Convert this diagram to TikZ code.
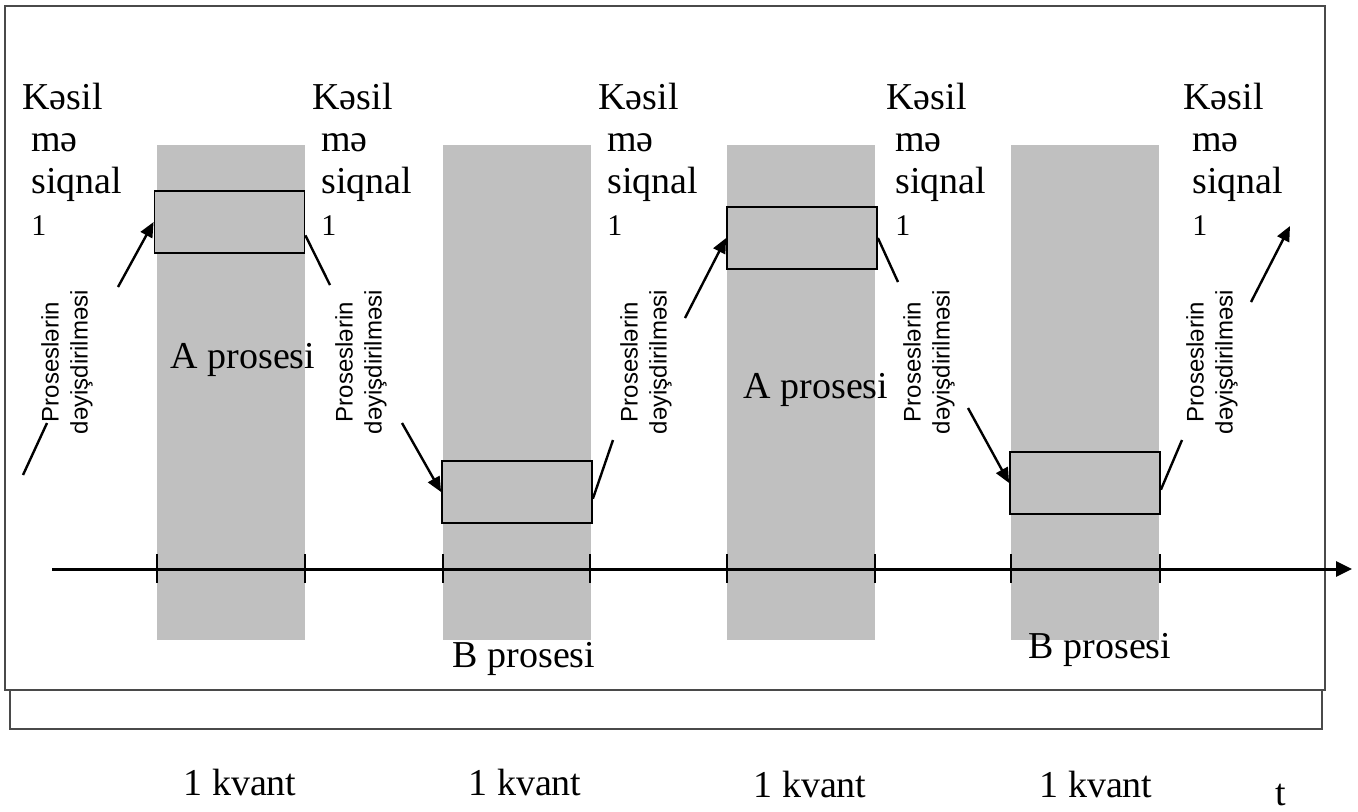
\documentclass[tikz,border=0pt]{standalone}
\usepackage{fontspec}
\setmainfont{Liberation Serif}
\setsansfont{Liberation Sans}
\usepackage{tikz}
\usetikzlibrary{arrows.meta,calc}
\definecolor{slot}{HTML}{C0C0C0}
\definecolor{rim}{HTML}{4A4A4A}
\tikzset{
  >={Triangle[length=7.5pt,width=6.5pt]},
  flow/.style={->,line width=1.2pt},
  tie/.style={line width=1.2pt},
  axis/.style={line width=1.5pt,-{Triangle[length=8pt,width=7.5pt]}},
  tick/.style={line width=0.8pt},
  rimline/.style={draw=rim,line width=0.8pt},
  proc/.style={draw=black,line width=0.9pt,fill=slot,minimum width=75pt,
    minimum height=31pt,inner sep=0pt},
  sig/.style={align=left,anchor=north west,inner sep=0pt,
    font=\fontsize{19}{21}\selectfont},
  swap/.style={rotate=90,align=center,inner sep=0pt,
    font=\sffamily\fontsize{12}{14.5}\selectfont},
  lbl/.style={anchor=base,inner sep=0pt,font=\fontsize{19}{21}\selectfont}
}
\newcommand{\kesil}{Kəsil\\\hspace*{4.5pt}mə\\\hspace*{4.5pt}siqnal\\\hspace*{4.5pt}{\fontsize{15}{17}\selectfont 1}}
\newcommand{\deyis}{Proseslərin\\dəyişdirilməsi}

\begin{document}
\begin{tikzpicture}[x=0.5pt,y=-0.5pt]
  \useasboundingbox (0,0) rectangle (1358,811);
  \draw[rimline] (5,6) rectangle (1325,690);
  \draw[rimline] (10,690) rectangle (1322,729);
  \foreach \x in {157,443,727,1011} \fill[slot] (\x,145) rectangle ++(148,495);
  \foreach \x in {157,305,443,590,727,875,1011,1160} \draw[tick] (\x,554) -- (\x,583);
  \coordinate (t0) at (52,569); \coordinate (t1) at (1352,569);
  \draw[axis] (t0) -- (t1);

  \node[proc] (r1) at (229.5,222) {};
  \node[proc] (r2) at (517,492) {};
  \node[proc] (r3) at (802,238) {};
  \node[proc] (r4) at (1085,483) {};

  \node[sig] (k1) at (22,83) {\kesil};
  \node[sig] (k2) at (312,83) {\kesil};
  \node[sig] (k3) at (598,83) {\kesil};
  \node[sig] (k4) at (886,83) {\kesil};
  \node[sig] (k5) at (1183,83) {\kesil};

  \node[swap] (d1) at (67,362) {\deyis};
  \node[swap] (d2) at (361,362) {\deyis};
  \node[swap] (d3) at (646,362) {\deyis};
  \node[swap] (d4) at (929,362) {\deyis};
  \node[swap] (d5) at (1212,362) {\deyis};

  \node[lbl] (pa1) at (243,368) {A prosesi};
  \node[lbl] (pa2) at (816,398) {A prosesi};
  \node[lbl] (pb1) at (524,667) {B prosesi};
  \node[lbl] (pb2) at (1100,658) {B prosesi};

  \node[lbl] (q1) at (240,795) {1 kvant};
  \node[lbl] (q2) at (525,795) {1 kvant};
  \node[lbl] (q3) at (810,797) {1 kvant};
  \node[lbl] (q4) at (1096,797) {1 kvant};
  \node[lbl] (tt) at (1281,805) {t};

  \coordinate (a0) at (23,475); \coordinate (a1) at (47,423);
  \coordinate (b0) at (118,287);
  \coordinate (c1) at (330,285); \coordinate (c0) at (402,423);
  \coordinate (e1) at (613,440); \coordinate (e0) at (685,318);
  \coordinate (f1) at (898,282); \coordinate (f0) at (968,408);
  \coordinate (g1) at (1182,440); \coordinate (g0) at (1251,302);
  \coordinate (h1) at (1290,226);

  \draw[tie] (a0) -- (a1);
  \draw[flow] (b0) -- (r1.west);
  \draw[tie] (r1.-10) -- (c1);
  \draw[flow] (c0) -- (r2.west);
  \draw[tie] (r2.-5) -- (e1);
  \draw[flow] (e0) -- (r3.west);
  \draw[tie] (r3.east) -- (f1);
  \draw[flow] (f0) -- (r4.west);
  \draw[tie] (r4.-5) -- (g1);
  \draw[flow] (g0) -- (h1);
\end{tikzpicture}
\end{document}
